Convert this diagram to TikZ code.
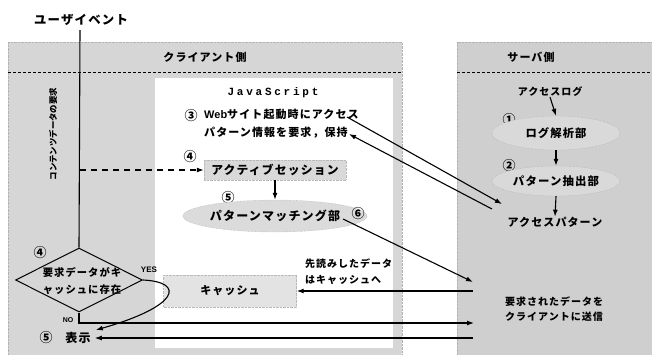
\documentclass[tikz,border=0pt]{standalone}
\usepackage{fontspec}
\setmainfont{Noto Sans CJK JP}[LetterSpace=10]
\newfontfamily\vertjp{Noto Sans CJK JP}
\newfontfamily\monojs[LetterSpace=25]{Liberation Mono}
\newfontfamily\latinlbl{Liberation Sans}
\usetikzlibrary{arrows.meta,shapes.geometric}
\newcommand{\fsz}[1]{\bfseries\fontsize{#1}{#1}\selectfont}
\tikzset{
  txt/.style={inner sep=0pt, font=\fsz{11}},
  num/.style={inner sep=0pt, font=\bfseries\fontsize{13}{13}\selectfont},
  panel/.style={fill=gray!32, draw=gray!60, densely dotted},
  shadebox/.style={fill=gray!30, draw=gray!55, densely dotted, inner sep=0pt},
  shadeell/.style={ellipse, fill=gray!28, draw=gray!70, densely dotted, inner sep=0pt},
  arr/.style={line width=1.1pt, -{Latex[length=7pt,width=5pt]}},
  plain/.style={line width=1.1pt},
  sepline/.style={densely dashed, line width=0.6pt}
}
\begin{document}
\begin{tikzpicture}[x=1pt,y=-1pt]
\useasboundingbox (0,0) rectangle (652,354);
% panels
\fill[white] (0,0) rectangle (652,354);
\path[panel] (8,42) rectangle (402,358);
\draw[sepline] (8,72) -- (402,72);
\path[fill=white] (155,78) rectangle (393,348);
\path[panel,fill=gray!38] (457,42) rectangle (656,358);
\draw[sepline] (457,72) -- (656,72);
% headers
\node[txt, font=\fsz{12.4}] (ue) at (81,20) {ユーザイベント};
\node[txt] (client) at (205,57) {クライアント側};
\node[txt] (server) at (531,57) {サーバ側};
% client side
\node[inner sep=0pt, font=\monojs\bfseries\fontsize{11}{11}\selectfont] (js) at (273,93) {JavaScript};
\node[num] (n3) at (191,116) {③};
\node[txt, anchor=north west, align=left, font=\bfseries\fontsize{11}{18}\selectfont] (req) at (204,109) {{\latinlbl Web}サイト起動時にアクセス\\パターン情報を要求，保持};
\node[num] (n4a) at (190,157) {④};
\node[shadebox, font=\fsz{11.8}, minimum width=142pt, minimum height=20pt] (act) at (275,170) {アクティブセッション};
\node[num] (n5a) at (228,198) {⑤};
\node[shadeell, font=\fsz{12}, minimum width=142pt, minimum height=32pt] (pm) at (275,216) {パターンマッチング部};
\node[num] (n6) at (358,214) {⑥};
\node[shadebox, font=\fsz{11}, fill=gray!22, minimum width=133pt, minimum height=32pt] (cache) at (230,291) {キャッシュ};
\node[txt, anchor=north west, align=left, font=\bfseries\fontsize{10}{16}\selectfont] (pf) at (305,259) {先読みしたデータ\\はキャッシュへ};
\node[rotate=90, inner sep=0pt, font=\vertjp\fsz{8.4}] (vreq) at (53,134) {コンテンツデータの要求};
% decision
\node[diamond, draw, line width=1pt, minimum width=127pt, minimum height=64pt, inner sep=0pt] (dec) at (79,280) {};
\node[txt, align=center, font=\bfseries\fontsize{10.3}{17}\selectfont] (dectxt) at (82,281) {要求データがキ\\ャッシュに存在};
\node[num] (n4b) at (40,253) {④};
\node[inner sep=0pt, font=\latinlbl\bfseries\fontsize{8}{8}\selectfont] (yes) at (149,270) {YES};
\node[inner sep=0pt, font=\latinlbl\bfseries\fontsize{7}{7}\selectfont] (no) at (68,320) {NO};
\node[num] (n5b) at (46,338) {⑤};
\node[txt, font=\fsz{12}] (disp) at (78,338) {表示};
% server side
\node[txt, font=\fsz{10}] (alog) at (550,92) {アクセスログ};
\node[num] (n1) at (509,120) {①};
\node[shadeell, font=\fsz{11.3}, fill=gray!30, minimum width=128pt, minimum height=34pt] (la) at (556,133) {ログ解析部};
\node[num] (n2) at (509,166) {②};
\node[shadeell, font=\fsz{11.4}, fill=gray!30, minimum width=128pt, minimum height=30pt] (pe) at (556,181) {パターン抽出部};
\node[txt] (ap) at (555,222) {アクセスパターン};
\node[txt, align=left, anchor=north west, font=\bfseries\fontsize{10}{15}\selectfont] (send) at (505,297) {要求されたデータを\\クライアントに送信};
% coordinates
\coordinate (uetop) at (80,30);
\coordinate (branch) at (80,170);
\coordinate (reqout) at (347,117);
\coordinate (reqin) at (349,134);
\coordinate (apin) at (502,204);
\coordinate (apout) at (492,209);
\coordinate (pmout) at (343,219);
\coordinate (srvin) at (473,282);
\coordinate (srvpf) at (473,291);
\coordinate (srvno) at (474,323);
\coordinate (srvdisp) at (473,338);
% connectors
\draw[plain] (uetop) -- (dec.north);
\draw[line width=1.1pt, dashed, dash pattern=on 6pt off 5pt, -{Latex[length=7pt,width=5pt]}] (branch) -- (act.west);
\draw[arr] (act.south) -- (pm.north);
\draw[arr] (reqout) -- (apin);
\draw[arr] (apout) -- (reqin);
\draw[arr] (pmout) -- (srvin);
\draw[arr] (srvpf) -- (cache.east);
\draw[arr] (dec.south) |- (srvno);
\draw[arr] (srvdisp) -- ([xshift=4pt]disp.east);
\draw[arr] (dec.east) .. controls (185,282) and (180,306) .. ([xshift=5pt,yshift=8pt]disp.east);
\draw[arr] (alog.south) -- (la.north);
\draw[arr] (la.south) -- (pe.north);
\draw[arr] (pe.south) -- (ap.north);
\end{tikzpicture}
\end{document}
